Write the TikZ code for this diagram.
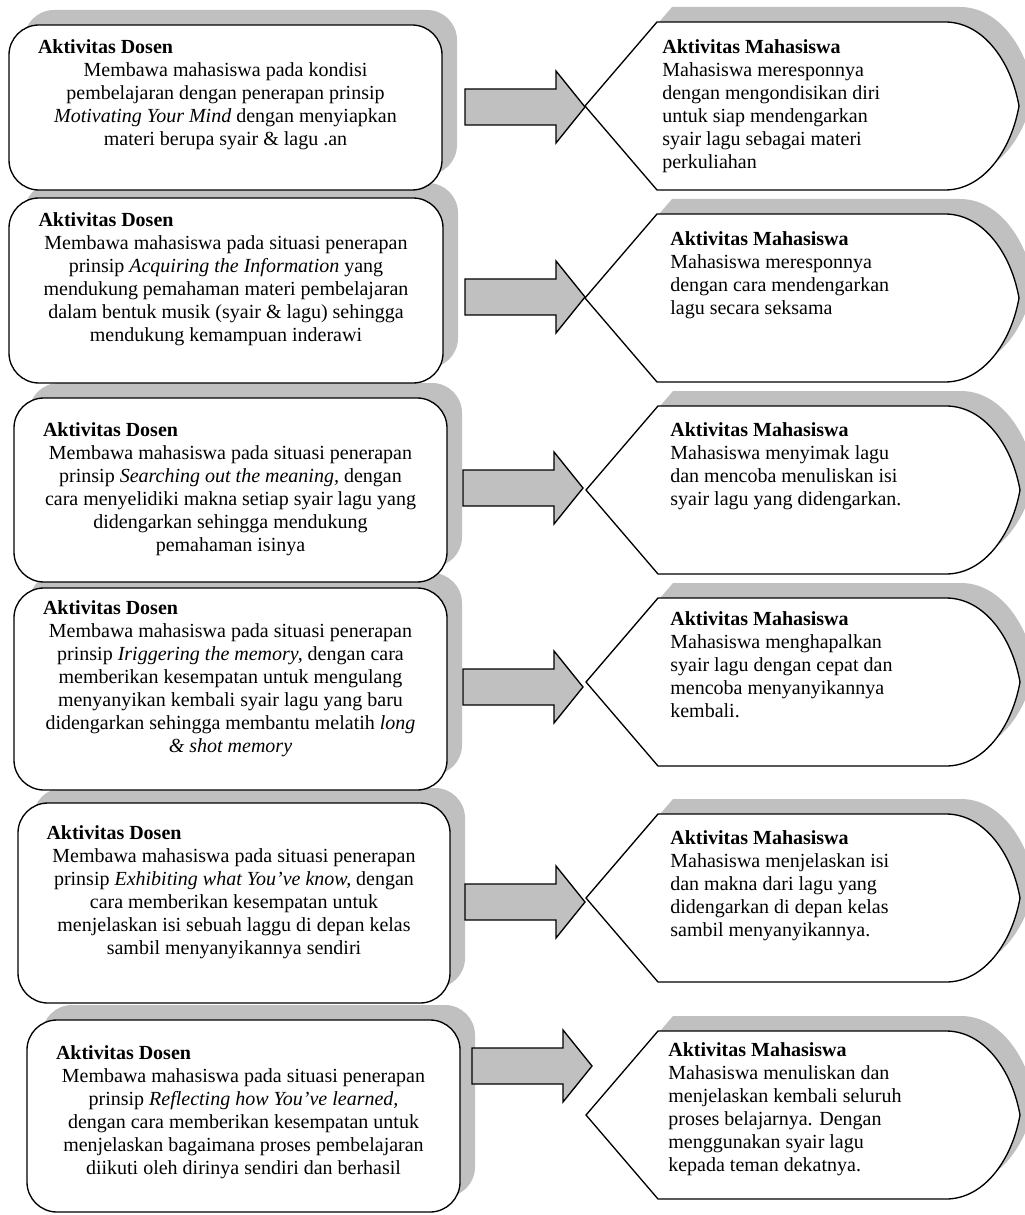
\documentclass[tikz,border=0pt]{standalone}
\usepackage{fontspec}
\setmainfont{Liberation Serif}
\usetikzlibrary{positioning,fit,shadows}
\definecolor{shadowgray}{HTML}{C0C0C0}

\begin{document}
\begin{tikzpicture}[x=0.6pt,y=-0.6pt,
  font=\fontsize{12pt}{13.8pt}\selectfont,
  grayshadow/.style={drop shadow={shadow xshift=9pt,shadow yshift=9pt,fill=shadowgray,opacity=1}},
  dosen/.style={draw,line width=0.8pt,fill=white,rounded corners=18pt,inner sep=0pt,grayshadow},
  dtxt/.style={anchor=north,align=center,inner sep=0pt},
  mtxt/.style={anchor=north west,align=left,inner sep=0pt},
  blkarrow/.pic={\draw[line width=0.8pt,fill=shadowgray] (0,-18) -- (91,-18) -- (91,-36) -- (120,0) -- (91,36) -- (91,18) -- (0,18) -- cycle;},
  mhsshape/.pic={\path[draw,line width=0.8pt,fill=white,grayshadow] (0,0) -- (72,-84) -- (360,-84)
     .. controls (398,-84) and (426,-45) .. (434,0) .. controls (426,45) and (398,84) .. (360,84) -- (72,84) -- cycle;}
]
\useasboundingbox (0,0) rectangle (1024,1215);

  \node[dosen, fit={(27,1020) (460,1212)}] (d6) {};
  \node[dtxt] (d6t) at (243.5,1045) {\makebox[225pt][l]{\textbf{Aktivitas Dosen}}\\
    Membawa mahasiswa pada situasi penerapan\\
    prinsip \textit{Reflecting how You’ve learned,}\\
    dengan cara memberikan kesempatan untuk\\
    menjelaskan bagaimana proses pembelajaran\\
    diikuti oleh dirinya sendiri dan berhasil};

  \node[dosen, fit={(18,803) (450,1003)}] (d5) {};
  \node[dtxt] (d5t) at (234,825) {\makebox[225pt][l]{\textbf{Aktivitas Dosen}}\\
    Membawa mahasiswa pada situasi penerapan\\
    prinsip \textit{Exhibiting what You’ve know,} dengan\\
    cara memberikan kesempatan untuk\\
    menjelaskan isi sebuah laggu di depan kelas\\
    sambil menyanyikannya sendiri};

  \node[dosen, fit={(14,588) (447,790)}] (d4) {};
  \node[dtxt] (d4t) at (230.5,600) {\makebox[225pt][l]{\textbf{Aktivitas Dosen}}\\
    Membawa mahasiswa pada situasi penerapan\\
    prinsip \textit{Iriggering the memory,} dengan cara\\
    memberikan kesempatan untuk mengulang\\
    menyanyikan kembali syair lagu yang baru\\
    didengarkan sehingga membantu melatih \textit{long}\\
    \textit{\& shot memory}};

  \node[dosen, fit={(14,398) (447,582)}] (d3) {};
  \node[dtxt] (d3t) at (230.5,422) {\makebox[225pt][l]{\textbf{Aktivitas Dosen}}\\
    Membawa mahasiswa pada situasi penerapan\\
    prinsip \textit{Searching out the meaning,} dengan\\
    cara menyelidiki makna setiap syair lagu yang\\
    didengarkan sehingga mendukung\\
    pemahaman isinya};

  \node[dosen, fit={(9,198) (443,383)}] (d2) {};
  \node[dtxt] (d2t) at (226,212) {\makebox[225pt][l]{\textbf{Aktivitas Dosen}}\\
    Membawa mahasiswa pada situasi penerapan\\
    prinsip \textit{Acquiring the Information} yang\\
    mendukung pemahaman materi pembelajaran\\
    dalam bentuk musik (syair \& lagu) sehingga\\
    mendukung kemampuan inderawi};

  \node[dosen, fit={(9,25) (442,190)}] (d1) {};
  \node[dtxt] (d1t) at (225.5,39) {\makebox[225pt][l]{\textbf{Aktivitas Dosen}}\\
    Membawa mahasiswa pada kondisi\\
    pembelajaran dengan penerapan prinsip\\
    \textit{Motivating Your Mind} dengan menyiapkan\\
    materi berupa syair \& lagu .an};

  \pic (m1) at (585,106) {mhsshape};
  \pic (m2) at (585,298) {mhsshape};
  \pic (m3) at (586,490) {mhsshape};
  \pic (m4) at (586,682) {mhsshape};
  \pic (m5) at (586,898) {mhsshape};
  \pic (m6) at (586,1115) {mhsshape};

  \node[mtxt] (m1t) at (662,39) {\textbf{Aktivitas Mahasiswa}\\
    Mahasiswa meresponnya\\
    dengan mengondisikan diri\\
    untuk siap mendengarkan\\
    syair lagu sebagai materi\\
    perkuliahan};
  \node[mtxt] (m2t) at (670,231) {\textbf{Aktivitas Mahasiswa}\\
    Mahasiswa meresponnya\\
    dengan cara mendengarkan\\
    lagu secara seksama};
  \node[mtxt] (m3t) at (670,422) {\textbf{Aktivitas Mahasiswa}\\
    Mahasiswa menyimak lagu\\
    dan mencoba menuliskan isi\\
    syair lagu yang didengarkan.};
  \node[mtxt] (m4t) at (670,611) {\textbf{Aktivitas Mahasiswa}\\
    Mahasiswa menghapalkan\\
    syair lagu dengan cepat dan\\
    mencoba menyanyikannya\\
    kembali.};
  \node[mtxt] (m5t) at (670,830) {\textbf{Aktivitas Mahasiswa}\\
    Mahasiswa menjelaskan isi\\
    dan makna dari lagu yang\\
    didengarkan di depan kelas\\
    sambil menyanyikannya.};
  \node[mtxt] (m6t) at (668,1042) {\textbf{Aktivitas Mahasiswa}\\
    Mahasiswa menuliskan dan\\
    menjelaskan kembali seluruh\\
    proses belajarnya. Dengan\\
    menggunakan syair lagu\\
    kepada teman dekatnya.};

  \pic (a1) at (465,107) {blkarrow};
  \pic (a2) at (465,297) {blkarrow};
  \pic (a3) at (463,488) {blkarrow};
  \pic (a4) at (463,687) {blkarrow};
  \pic (a5) at (465,902) {blkarrow};
  \pic (a6) at (472,1066) {blkarrow};
\end{tikzpicture}
\end{document}
